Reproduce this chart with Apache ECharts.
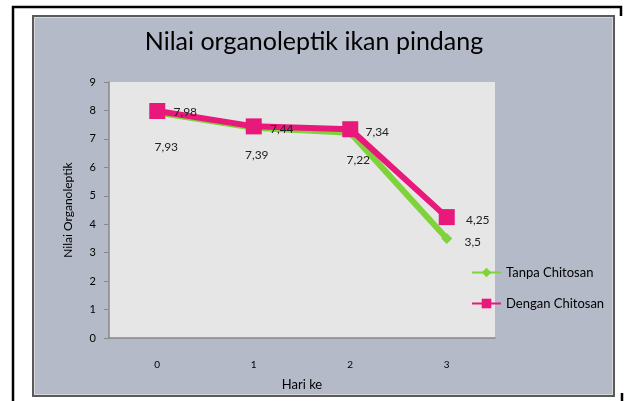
<!DOCTYPE html>
<html><head><meta charset="utf-8">
<script src="https://cdn.jsdelivr.net/npm/echarts@6/dist/echarts.min.js"></script>
<style>html,body{margin:0;padding:0;background:#fff}#c{width:628px;height:401px}</style>
</head><body><div id="c"></div>
<script>
var categories = ['0', '1', '2', '3'];
var tanpa = [7.93, 7.39, 7.22, 3.5];
var dengan = [7.98, 7.44, 7.34, 4.25];
var seriesNames = ['Tanpa Chitosan', 'Dengan Chitosan'];
var yTicks = [0, 9, 1];

var tanpaLabelOffsets = [[9, 35], [3, 27], [8, 27], [26, 4]];
var denganLabelOffsets = [[28, 1], [28, 3], [27, 3], [31, 3]];

function fmt(v) { return String(v).replace('.', ','); }
function buildData(vals, offs) {
  return vals.map(function (v, i) {
    return { value: v, label: { offset: offs[i] } };
  });
}
var font = 'Lato, "Open Sans", sans-serif';
var chart = echarts.init(document.getElementById('c'));
chart.setOption({
  animation: false,
  backgroundColor: '#ffffff',
  graphic: [
    { type: 'polyline', shape: { points: [[13, 401], [13, 7], [621, 7], [621, 16]] }, style: { fill: null, stroke: '#000', lineWidth: 2.5 }, z: -10 },
    { type: 'line', shape: { x1: 622, y1: 393, x2: 622, y2: 401 }, style: { stroke: '#000', lineWidth: 2.5 }, z: -10 },
    { type: 'rect', shape: { x: 33, y: 16, width: 581, height: 380 }, style: { fill: '#b4bac8', stroke: '#5a5a5a', lineWidth: 2 }, z: -9 },
    { type: 'rect', shape: { x: 34.5, y: 17.5, width: 578, height: 377 }, style: { fill: 'none', stroke: '#d8d8d8', lineWidth: 1 }, z: -9 },
    { type: 'rect', shape: { x: 109, y: 82, width: 386, height: 256 }, style: { fill: '#e6e6e6' }, z: -8 }
  ],
  title: {
    text: 'Nilai organoleptik ikan pindang',
    left: 'center', top: 24,
    textStyle: { fontFamily: font, fontSize: 25, fontWeight: 'normal', color: '#000' }
  },
  legend: {
    orient: 'vertical', left: 466, top: 261, itemGap: 18, itemWidth: 29, itemHeight: 12,
    textStyle: { fontFamily: font, fontSize: 13, color: '#000' },
    data: seriesNames
  },
  grid: { left: 109, top: 82, width: 386, height: 256 },
  xAxis: {
    type: 'category', data: categories, boundaryGap: true,
    name: 'Hari ke', nameLocation: 'middle', nameGap: 40,
    nameTextStyle: { fontFamily: font, fontSize: 13, color: '#000' },
    axisLine: { lineStyle: { color: '#888', width: 1.5 } },
    axisTick: { show: false },
    axisLabel: { margin: 22, fontFamily: font, fontSize: 10, color: '#000' }
  },
  yAxis: {
    type: 'value', min: yTicks[0], max: yTicks[1], interval: yTicks[2],
    name: 'Nilai Organoleptik', nameLocation: 'middle', nameGap: 35, nameRotate: 90,
    nameTextStyle: { fontFamily: font, fontSize: 12, color: '#000' },
    axisLine: { show: true, lineStyle: { color: '#888', width: 1.5 } },
    axisTick: { show: true, length: 5, lineStyle: { color: '#888' } },
    splitLine: { show: false },
    axisLabel: { margin: 13, fontFamily: font, fontSize: 11, color: '#000' }
  },
  series: [
    {
      name: seriesNames[0], type: 'line', data: buildData(tanpa, tanpaLabelOffsets),
      color: '#7ed23a', symbol: 'diamond', symbolSize: 11,
      lineStyle: { width: 6, color: '#7ed23a' }, itemStyle: { color: '#7ed23a' },
      label: { show: true, position: 'inside', formatter: function (p) { return fmt(p.value); },
        fontFamily: font, fontSize: 12, color: '#222' },
      z: 2
    },
    {
      name: seriesNames[1], type: 'line', data: buildData(dengan, denganLabelOffsets),
      color: '#e8197a', symbol: 'rect', symbolSize: 16,
      lineStyle: { width: 6, color: '#e8197a' }, itemStyle: { color: '#e8197a' },
      label: { show: true, position: 'inside', formatter: function (p) { return fmt(p.value); },
        fontFamily: font, fontSize: 12, color: '#222' },
      z: 3
    }
  ]
});
</script></body></html>
